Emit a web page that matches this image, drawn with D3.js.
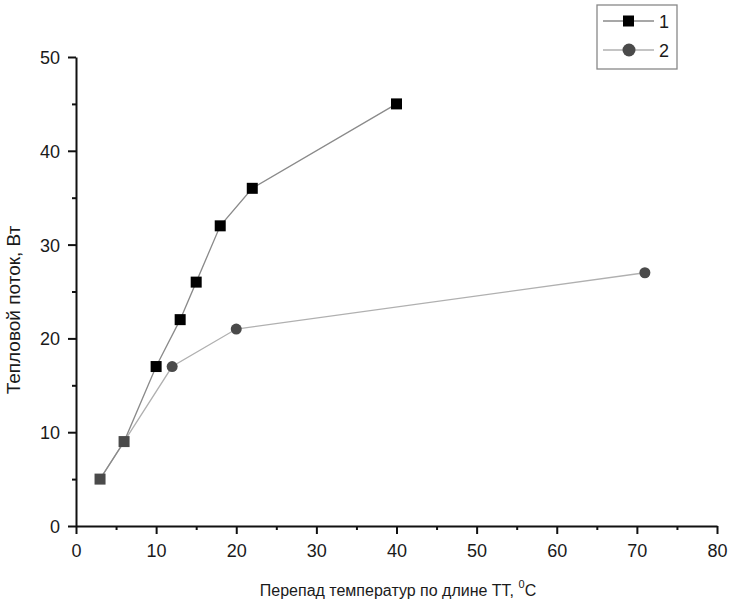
<!DOCTYPE html>
<html>
  <head>
    <meta charset="utf-8" />
    <script src="https://d3js.org/d3.v7.min.js"></script>
    <style>
      body { margin: 0; background: #fff; }
      text { font-family: "Liberation Sans", Arial, sans-serif; fill: #1a1a1a; }
    </style>
  </head>
  <body>
    <div id="chart"></div>
    <script>
      // data
      var s1x = [3, 6, 10, 13, 15, 18, 22, 40];
      var s1y = [5, 9, 17, 22, 26, 32, 36, 45];
      var s2x = [3, 6, 12, 20, 71];
      var s2y = [5, 9, 17, 21, 27];
      var xTicks = [0, 10, 20, 30, 40, 50, 60, 70, 80];
      var yTicks = [0, 10, 20, 30, 40, 50];
      var seriesNames = ["1", "2"];

      var width = 729, height = 604;
      var svg = d3.select("#chart").append("svg")
        .attr("width", width).attr("height", height);

      var x = d3.scaleLinear().domain([0, 80]).range([76, 717]);
      var y = d3.scaleLinear().domain([0, 50]).range([526, 57]);

      // axes
      var xAxis = d3.axisBottom(x).tickValues(xTicks).tickSize(8).tickSizeOuter(0);
      var gx = svg.append("g").attr("transform", "translate(0," + y(0) + ")").call(xAxis);
      var gxMinor = svg.append("g").attr("transform", "translate(0," + y(0) + ")")
        .call(d3.axisBottom(x).tickValues(d3.range(5, 80, 10)).tickSize(4).tickFormat(""));
      gxMinor.select(".domain").remove();

      var yAxis = d3.axisLeft(y).tickValues(yTicks).tickSize(8).tickSizeOuter(0);
      var gy = svg.append("g").attr("transform", "translate(" + x(0) + ",0)").call(yAxis);
      var gyMinor = svg.append("g").attr("transform", "translate(" + x(0) + ",0)")
        .call(d3.axisLeft(y).tickValues(d3.range(5, 50, 10)).tickSize(4).tickFormat(""));
      gyMinor.select(".domain").remove();

      svg.selectAll(".domain").attr("stroke", "#111").attr("stroke-width", 2);
      svg.selectAll(".tick line").attr("stroke", "#111").attr("stroke-width", 2);
      svg.selectAll(".tick text").attr("font-size", 18).attr("fill", "#1a1a1a")
        .style("font-family", "Liberation Sans, Arial, sans-serif");
      gx.selectAll(".tick text").attr("y", 0).attr("dy", 0).attr("transform", "translate(0,31)");
      gy.selectAll(".tick text").attr("x", -16).attr("dy", "0.36em");

      // lines
      var pts1 = s1x.map(function (d, i) { return [d, s1y[i]]; });
      var pts2 = s2x.map(function (d, i) { return [d, s2y[i]]; });
      var line = d3.line().x(function (d) { return x(d[0]); }).y(function (d) { return y(d[1]); });

      svg.append("path").attr("d", line(pts2)).attr("fill", "none")
        .attr("stroke", "#b0b0b0").attr("stroke-width", 1.3);
      svg.append("path").attr("d", line(pts1)).attr("fill", "none")
        .attr("stroke", "#8a8a8a").attr("stroke-width", 1.3);

      // markers
      svg.append("g").selectAll("rect").data(pts1).enter().append("rect")
        .attr("x", function (d) { return x(d[0]) - 5.5; })
        .attr("y", function (d) { return y(d[1]) - 5.5; })
        .attr("width", 11).attr("height", 11)
        .attr("fill", function (d) { return d[0] <= 6 ? "#4a4a4a" : "#000"; });
      svg.append("g").selectAll("circle").data(pts2.filter(function (d) { return d[0] > 6; }))
        .enter().append("circle")
        .attr("cx", function (d) { return x(d[0]); })
        .attr("cy", function (d) { return y(d[1]); })
        .attr("r", 5.5).attr("fill", "#4a4a4a");

      // axis titles
      svg.append("text").attr("transform", "translate(20,310) rotate(-90)")
        .attr("text-anchor", "middle").attr("font-size", 19)
        .text("Тепловой поток, Вт");
      var xt = svg.append("text").attr("x", 398).attr("y", 596)
        .attr("text-anchor", "middle").attr("font-size", 16);
      xt.append("tspan").text("Перепад температур по длине ТТ, ");
      xt.append("tspan").attr("font-size", 11).attr("dy", -8).text("0");
      xt.append("tspan").attr("dy", 8).text("C");

      // legend
      var lg = svg.append("g");
      lg.append("rect").attr("x", 597).attr("y", 5).attr("width", 80).attr("height", 64)
        .attr("fill", "#fff").attr("stroke", "#888").attr("stroke-width", 1.3);
      seriesNames.forEach(function (name, i) {
        var cy = 21 + i * 29;
        lg.append("line").attr("x1", 603).attr("x2", 654).attr("y1", cy).attr("y2", cy)
          .attr("stroke", i === 0 ? "#8a8a8a" : "#b0b0b0").attr("stroke-width", 1.3);
        if (i === 0) {
          lg.append("rect").attr("x", 623).attr("y", cy - 5.5).attr("width", 11).attr("height", 11).attr("fill", "#000");
        } else {
          lg.append("circle").attr("cx", 629).attr("cy", cy).attr("r", 6.5).attr("fill", "#4a4a4a");
        }
        lg.append("text").attr("x", 659).attr("y", cy + 7).attr("font-size", 18).text(name);
      });
    </script>
  </body>
</html>
